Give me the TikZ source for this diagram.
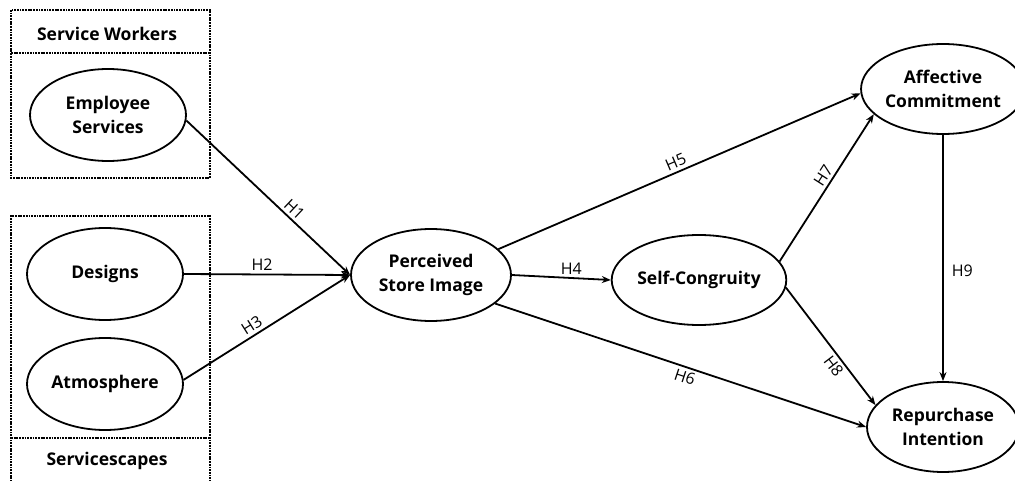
\documentclass[tikz,border=0pt]{standalone}
\usepackage{fontspec}
\setmainfont{Open Sans}
\usetikzlibrary{shapes.geometric,arrows.meta}
\begin{document}
\begin{tikzpicture}[x=1pt,y=-1pt,
  construct/.style={ellipse,draw,line width=1.8pt,minimum width=156pt,minimum height=92pt,inner sep=0pt,align=center,font=\fontsize{17.5}{24}\selectfont\bfseries},
  grpbox/.style={draw,line width=1.8pt,dash pattern=on 1.8pt off 0.9pt},
  grptitle/.style={font=\fontsize{17.5}{20}\selectfont\bfseries},
  path/.style={line width=1.8pt,-{Stealth[length=9pt,width=7pt]}},
  hlab/.style={font=\fontsize{16}{18}\selectfont,inner sep=3pt}]
\useasboundingbox (0,0) rectangle (1015,481);
% group boxes
\draw[grpbox] (11,10) rectangle (210,178);
\draw[grpbox] (11,53) -- (210,53);
\node[grptitle] (swt) at (107,34) {Service Workers};
\draw[grpbox] (11,490) -- (11,216) -- (210,216) -- (210,490);
\draw[grpbox] (11,438) -- (210,438);
\node[grptitle] (sst) at (107,461) {Servicescapes};
% constructs
\node[construct] (es) at (108,115) {Employee\\Services};
\node[construct] (ds) at (105,274) {Designs};
\node[construct] (at) at (105,384) {Atmosphere};
\node[construct,minimum width=160pt] (psi) at (431,275) {Perceived\\Store Image};
\node[construct,minimum width=160pt,minimum height=90pt] (sc) at (699,280) {Self-Congruity};
\node[construct,minimum width=152pt,minimum height=90pt] (ac) at (943,89) {Affective\\Commitment};
\node[construct,minimum width=152pt,minimum height=90pt] (ri) at (943,427) {Repurchase\\Intention};
% paths
\draw[path] (es.-4) -- node[hlab,sloped,above,pos=0.62] {H1} (psi.180);
\draw[path] (ds.0) -- node[hlab,above,pos=0.47] {H2} (psi.180);
\draw[path] (at.3) -- node[hlab,sloped,above,pos=0.44] {H3} (psi.180);
\draw[path] (psi.0) -- node[hlab,above,pos=0.6] {H4} (sc.180);
\draw[path] (psi.21) -- node[hlab,sloped,above,pos=0.5] {H5} (ac.183);
\draw[path] (psi.-24) -- node[hlab,sloped,below,pos=0.52] {H6} (ri.180);
\draw[path] (sc.13) -- node[hlab,sloped,above,pos=0.55] {H7} (ac.200);
\draw[path] (sc.-5) -- node[hlab,sloped,below,pos=0.62] {H8} (ri.162);
\draw[path] (ac.south) -- node[hlab,right=5pt,pos=0.55] {H9} (ri.north);
\end{tikzpicture}
\end{document}
